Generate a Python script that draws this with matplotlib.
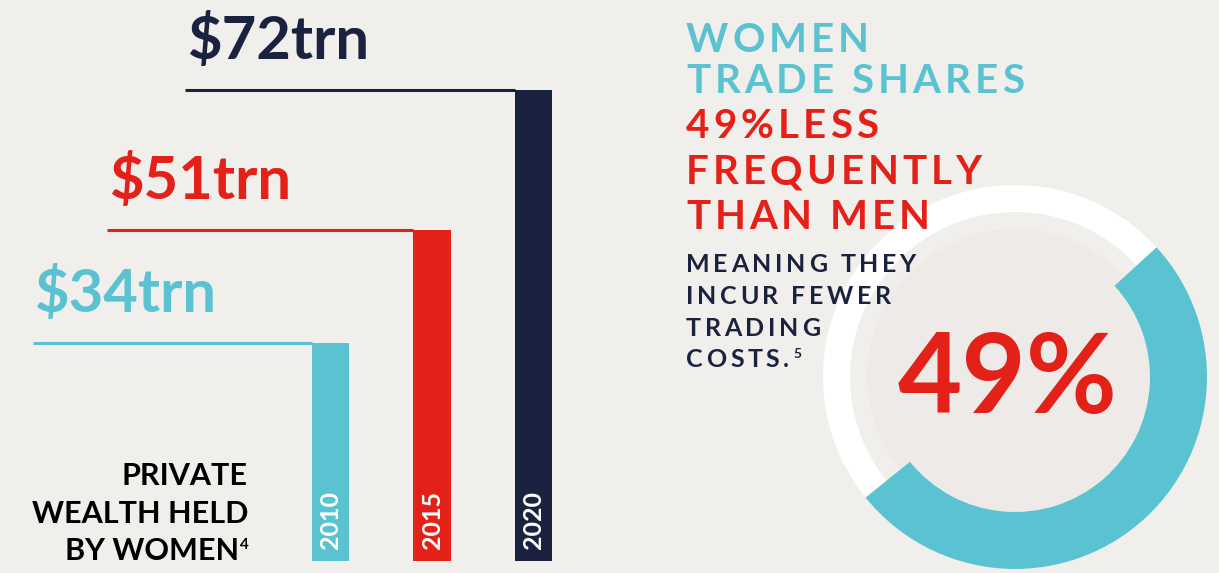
import matplotlib
matplotlib.use('Agg')
import matplotlib.pyplot as plt
from matplotlib.patches import Circle

# data
years = ['2010', '2015', '2020']
wealth = [34, 51, 72]           # private wealth held by women, $trn
less_frequent = 49               # % less frequently than men

# colours
BG = '#f0efeb'
TEAL = '#5bc2d1'
RED = '#e32119'
NAVY = '#1b2240'
bar_colors = [TEAL, RED, NAVY]

FONT = ['Lato', 'DejaVu Sans']
W, H, DPI = 1219, 573, 100

fig = plt.figure(figsize=(W / DPI, H / DPI), dpi=DPI, facecolor=BG)
renderer = fig.canvas.get_renderer()


def px(x, y):
    # pixel coords (from top left) -> figure fraction
    return x / W, 1 - y / H


# ---- bars ----
ax = fig.add_axes([0, 12 / H, 600 / W, 561 / H])
ax.set_facecolor('none')
ax.set_xlim(-3.256, 2.655)
ax.set_ylim(1.26, 85.46)
ax.axis('off')

bw = 0.365
xs = range(len(years))
ax.bar(xs, wealth, width=bw, color=bar_colors, zorder=2)

line_start = [-2.93, -2.20, -1.43]
for i, (v, c) in enumerate(zip(wealth, bar_colors)):
    ax.hlines(v, line_start[i], i - bw / 2, color=c, lw=2.2, zorder=1)
    ax.annotate(r'\$%dtrn' % v, xy=(line_start[i], v), xytext=(1, 22),
                textcoords='offset points', ha='left', va='baseline',
                fontsize=43, fontweight='bold', color=c, family=FONT)
    ax.annotate(years[i], xy=(i, 1.26), xytext=(0, 8.5), textcoords='offset points',
                rotation=90, ha='center', va='bottom', fontsize=18,
                fontweight='bold', color='white', family=FONT)

# left caption
cap_lines = ['PRIVATE', 'WEALTH HELD', 'BY WOMEN']
cap_base = [485, 523, 560]
for s, yb in zip(cap_lines, cap_base):
    right = 248 if s != 'BY WOMEN' else 239
    fig.text(*px(right, yb), s, ha='right', va='baseline', fontsize=22,
             fontweight='bold', color='black', family=FONT)
fig.text(*px(240, 549), '4', ha='left', va='baseline', fontsize=11,
         fontweight='bold', color='black', family=FONT)


# ---- right text block, letter-spaced ----
def tracked(x, y, s, size, color, track):
    cur = x
    for ch in s:
        if ch == ' ':
            cur += size * DPI / 72 * 0.24 + track
            continue
        t = fig.text(*px(cur, y), ch, fontsize=size, fontweight='bold',
                     color=color, family=FONT, ha='left', va='baseline')
        cur += t.get_window_extent(renderer).width + track
    return cur


head = [('WOMEN', TEAL), ('TRADE SHARES', TEAL), ('%d%%LESS' % less_frequent, RED),
        ('FREQUENTLY', RED), ('THAN MEN', RED)]
head_base = [52, 93, 138, 184, 229]
for (s, c), yb in zip(head, head_base):
    tracked(686, yb, s, 29, c, 4.0)

sub = ['MEANING THEY', 'INCUR FEWER', 'TRADING', 'COSTS.']
sub_base = [272, 304, 336, 367]
for s, yb in zip(sub, sub_base):
    end = tracked(686, yb, s, 18, NAVY, 3.6)
fig.text(*px(end + 1, 358), '5', fontsize=10, fontweight='bold', color=NAVY,
         family=FONT, ha='left', va='baseline')

# ---- donut ----
ax2 = fig.add_axes([823 / W, 4 / H, 384 / W, 384 / H])
share = [(100 - less_frequent) / 100, less_frequent / 100]
ax2.pie([1], colors=['white'], radius=1, startangle=90,
        wedgeprops=dict(width=27 / 192, linewidth=0))
ax2.pie(share, colors=[TEAL, 'none'], radius=1, startangle=42.5, counterclock=False,
        wedgeprops=dict(width=57 / 192, linewidth=0))
ax2.add_patch(Circle((0, 0), 148 / 192, color='#edeae7', lw=0, zorder=0))
ax2.set_xlim(-1, 1)
ax2.set_ylim(-1, 1)
ax2.set_aspect('equal')
ax2.axis('off')
ax2.text(-0.04, -36 / 192, '%d%%' % less_frequent, ha='center', va='baseline',
         fontsize=80, fontweight='bold', color=RED, family=FONT)

fig.savefig('out.png', dpi=DPI, facecolor=BG)
